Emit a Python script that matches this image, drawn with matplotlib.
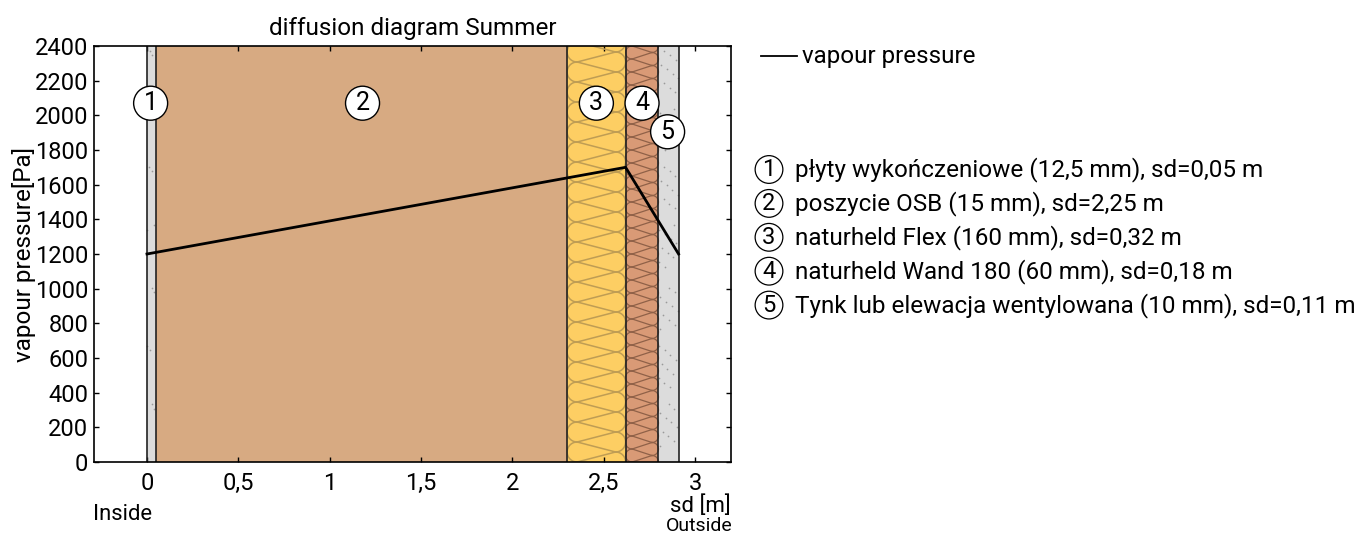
import numpy as np
import matplotlib
matplotlib.use('Agg')
import matplotlib.pyplot as plt

plt.rcParams['font.family'] = ['Roboto', 'DejaVu Sans']

layer_sd = [0.05, 2.25, 0.32, 0.18, 0.11]
layer_colors = ['#dcdcdc', '#d7aa82', '#fdce63', '#d99a76', '#dcdcdc']
layer_names = ['płyty wykończeniowe (12,5 mm), sd=0,05 m',
               'poszycie OSB (15 mm), sd=2,25 m',
               'naturheld Flex (160 mm), sd=0,32 m',
               'naturheld Wand 180 (60 mm), sd=0,18 m',
               'Tynk lub elewacja wentylowana (10 mm), sd=0,11 m']
label_y = [2070, 2070, 2070, 2070, 1905]
label_x = [0.02, 1.18, 2.46, 2.71, 2.85]

sd_points = [0, 2.62, 2.91]
pressure = [1200, 1700, 1200]

yticks = list(range(0, 2401, 200))
xticks = [0, 0.5, 1, 1.5, 2, 2.5, 3]
xticklabels = ['0', '0,5', '1', '1,5', '2', '2,5', '3']

XPX = 1 / 182.7
YPX = 2400 / 416


def insulation(ax, x0, x1, pitch, color, lw):
    # zigzag between the sides, with a round loop at every turn
    p = pitch * YPX
    r = pitch / 2 * XPX
    th = np.linspace(0, np.pi, 30)
    k = -1
    while k * p < 2400:
        y = k * p
        ax.plot(x0 + r - r * np.sin(th), y + p / 2 - p / 2 * np.cos(th),
                color=color, lw=lw, zorder=2)
        ax.plot(x1 - r + r * np.sin(th), y + p - p / 2 * np.cos(th),
                color=color, lw=lw, zorder=2)
        ax.plot([x0 + r, x1 - r], [y, y + p / 2], color=color, lw=lw, zorder=2)
        ax.plot([x0 + r, x1 - r], [y + p, y + p / 2], color=color, lw=lw, zorder=2)
        k += 1


def speckle(ax, x0, x1, n):
    i = np.arange(1, n + 1)
    xs = x0 + (x1 - x0) * ((i * 0.7548777) % 1)
    ys = 2400 * ((i * 0.5698403) % 1)
    ax.scatter(xs, ys, s=1.5, color='#9a9a9a', linewidths=0, zorder=2)


fig = plt.figure(figsize=(13.57, 5.34), dpi=100)
ax = fig.add_axes([94 / 1357, 1 - 462 / 534, 637 / 1357, 416 / 534])

edges = np.concatenate([[0], np.cumsum(layer_sd)])
for i in range(len(layer_sd)):
    ax.axvspan(edges[i], edges[i + 1], color=layer_colors[i], lw=0, zorder=1)
insulation(ax, edges[2], edges[3], 20, '#bf9d54', 1.1)
insulation(ax, edges[3], edges[4], 13, '#8f6148', 0.9)
speckle(ax, edges[0], edges[1], 14)
speckle(ax, edges[4], edges[5], 70)
for e in edges:
    ax.axvline(e, color='#222222', lw=1.2, zorder=3)

ax.plot(sd_points, pressure, color='black', lw=2, zorder=4, label='vapour pressure')

for i in range(len(layer_sd)):
    ax.text(label_x[i], label_y[i], str(i + 1), fontsize=18, ha='center', va='center',
            zorder=6, bbox=dict(boxstyle='circle,pad=0.2', fc='white', ec='black', lw=1))

ax.set_xlim(-0.29, 3.197)
ax.set_ylim(0, 2400)
ax.set_xticks(xticks)
ax.set_xticklabels(xticklabels)
ax.set_yticks(yticks)
ax.tick_params(direction='in', length=3.8, width=1, labelsize=17, top=True, right=True)
ax.tick_params(axis='x', pad=7)
ax.tick_params(axis='y', pad=4)
for s in ax.spines.values():
    s.set_linewidth(1.2)
    s.set_zorder(5)

ax.set_title('diffusion diagram Summer', fontsize=17.5, pad=8)
fig.text(24 / 1357, 1 - 254 / 534, 'vapour pressure[Pa]', fontsize=17.5, rotation=90,
         ha='center', va='center')
fig.text(731 / 1357, 1 - 506 / 534, 'sd [m]', fontsize=16, ha='right', va='center')
fig.text(93 / 1357, 1 - 515 / 534, 'Inside', fontsize=15.8, ha='left', va='center')
fig.text(733 / 1357, 1 - 526 / 534, 'Outside', fontsize=14, ha='right', va='center')

# legend
fig.add_artist(plt.Line2D([761 / 1357, 797 / 1357], [1 - 56 / 534] * 2, color='black', lw=1.3))
fig.text(802 / 1357, 1 - 57 / 534, 'vapour pressure', fontsize=17.4, va='center')
for i, name in enumerate(layer_names):
    y = 1 - (169.5 + i * 33.9) / 534
    fig.text(769 / 1357, y, str(i + 1), fontsize=17, ha='center', va='center',
             bbox=dict(boxstyle='circle,pad=0.1', fc='white', ec='black', lw=0.9))
    fig.text(795 / 1357, y, name, fontsize=17.5, va='center')

fig.savefig('out.png', dpi=100)
